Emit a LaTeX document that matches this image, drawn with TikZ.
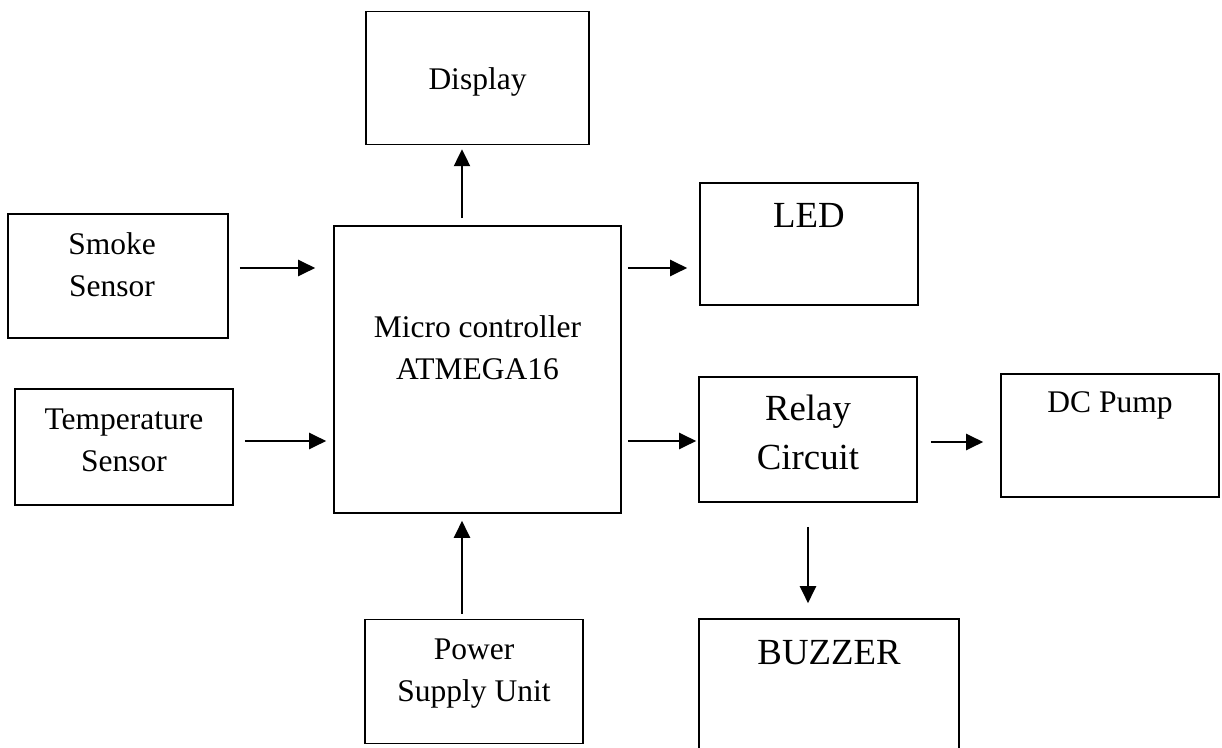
\documentclass[tikz,border=0pt]{standalone}
\usepackage{fontspec}
\setmainfont{Liberation Serif}
\usetikzlibrary{arrows.meta, positioning}
\tikzset{
    block/.style={rectangle, draw=black, line width=0.8pt, inner sep=0pt},
    txt/.style={anchor=north, align=center, inner sep=0pt, yshift=-#1,
                font=\fontsize{15.75}{21}\selectfont},
    bigtxt/.style={txt=#1, font=\fontsize{18.4}{24.5}\selectfont},
    arr/.style={line width=1.1pt, -{Triangle[length=8.5pt, width=8pt]}},
}

\begin{document}
\begin{tikzpicture}[x=0.5pt, y=-0.5pt]
    \useasboundingbox (0,0) rectangle (1222,748);
    \clip (0,0) rectangle (1222,748);

    % Controller
    \node[block, minimum width=143.5pt, minimum height=143.5pt,
          label={[txt=45pt]north:{Micro controller\\ATMEGA16}}] (mcu) at (477.5,369.5) {};
    \node[block, minimum width=111.5pt, minimum height=66.5pt, above=40pt of mcu,
          label={[txt=28.5pt]north:Display}] (disp) {};
    \node[block, minimum width=109pt, minimum height=62pt, below=52.5pt of mcu, xshift=-1.75pt,
          label={[txt=10pt]north:{Power\\Supply Unit}}] (psu) {};

    % Inputs
    \node[block, minimum width=110pt, minimum height=62pt,
          label={[txt=9.75pt, xshift=-3pt]north:{Smoke\\Sensor}}] (smoke) at (118,276) {};
    \node[block, minimum width=109pt, minimum height=58pt,
          label={[txt=10pt]north:{Temperature\\Sensor}}] (temp) at (124,447) {};

    % Outputs
    \node[block, minimum width=109pt, minimum height=61pt,
          label={[bigtxt=10.5pt]north:LED}] (led) at (809,244) {};
    \node[block, minimum width=109pt, minimum height=62.5pt,
          label={[bigtxt=9pt]north:{Relay\\Circuit}}] (relay) at (808,439.5) {};
    \node[block, minimum width=109pt, minimum height=61.5pt,
          label={[txt=9.25pt]north:DC Pump}] (pump) at (1110,435.5) {};
    \node[block, minimum width=130pt, minimum height=80.5pt,
          label={[bigtxt=11pt]north:BUZZER}] (buzz) at (829,699.5) {};

    % Into the controller
    \draw[arr, shorten <=5.5pt, shorten >=9pt] ([yshift=4pt]smoke.east) -- ([yshift=4pt]smoke.east -| mcu.west);
    \draw[arr, shorten <=5.5pt, shorten >=3.5pt] ([yshift=3pt]temp.east) -- ([yshift=3pt]temp.east -| mcu.west);
    \draw[arr, shorten <=2.5pt, shorten >=3.5pt] ([xshift=-6pt]psu.north) -- ([xshift=-6pt]psu.north |- mcu.south);

    % Out of the controller
    \draw[arr, shorten <=3.5pt, shorten >=2pt] ([xshift=-7.75pt]mcu.north) -- ([xshift=-7.75pt]mcu.north |- disp.south);
    \draw[arr, shorten <=3pt, shorten >=6pt] ([yshift=-12pt]led.west -| mcu.east) -- ([yshift=-12pt]led.west);
    \draw[arr, shorten <=3pt, shorten >=1pt] ([yshift=-0.75pt]relay.west -| mcu.east) -- ([yshift=-0.75pt]relay.west);

    % Relay outputs
    \draw[arr, shorten <=6.5pt, shorten >=8.5pt] ([yshift=-1.25pt]relay.east) -- ([yshift=-1.25pt]relay.east -| pump.west);
    \draw[arr, shorten <=12pt, shorten >=7.5pt] (relay.south) -- (relay.south |- buzz.north);
\end{tikzpicture}
\end{document}
